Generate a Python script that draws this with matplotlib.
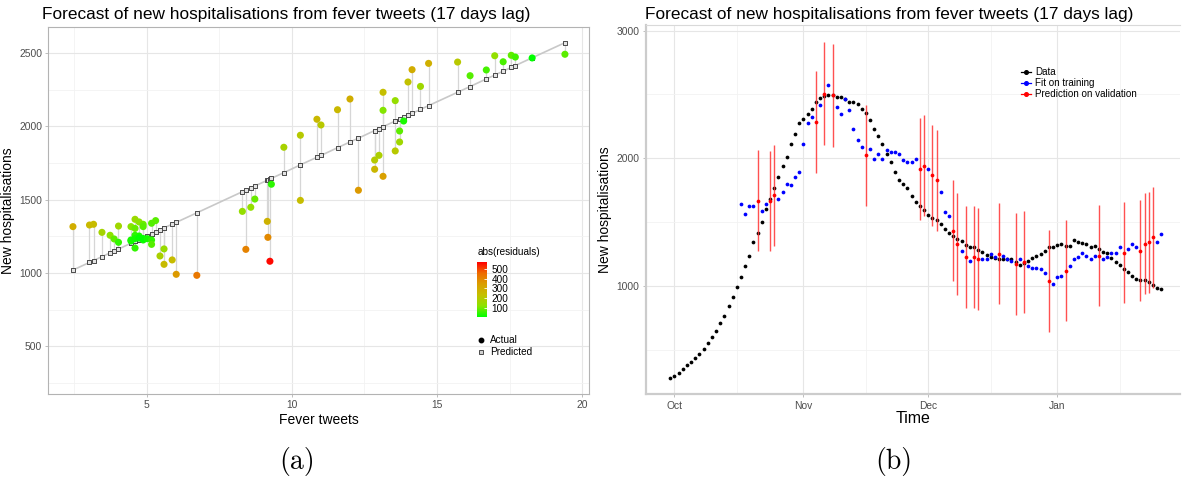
import numpy as np
import pandas as pd
import matplotlib
matplotlib.use('Agg')
import matplotlib.pyplot as plt
import matplotlib.dates as mdates
from matplotlib.colors import LinearSegmentedColormap, Normalize
from matplotlib.cm import ScalarMappable
from matplotlib.lines import Line2D

plt.rcParams['font.family'] = ['Liberation Sans', 'DejaVu Sans']

# -------------------------------
# (a) fever tweets vs new hospitalisations
# -------------------------------
fever_tweets = [2.45, 3.02, 3.16, 3.45, 3.73, 3.87, 4.02, 4.02, 4.45, 4.45, 4.45,
                4.59, 4.59, 4.59, 4.59, 4.59, 4.73, 4.73, 4.73, 4.87, 4.87, 4.87, 4.87,
                5.01, 5.16, 5.16, 5.16, 5.30, 5.45, 5.59, 5.59, 5.87, 6.01, 6.72,
                8.29, 8.41, 8.58, 8.72, 9.15, 9.17, 9.24, 9.29, 9.72, 10.29, 10.29,
                10.86, 11.00, 11.57, 12.00, 12.29, 12.85, 12.85, 13.00, 13.14, 13.14,
                13.14, 13.56, 13.56, 13.71, 13.71, 13.85, 14.00, 14.14, 14.43, 14.71,
                15.71, 16.14, 16.70, 16.99, 17.28, 17.56, 17.70, 18.28, 19.41]
actual = [1316, 1327, 1332, 1277, 1257, 1232, 1320, 1209, 1316, 1218, 1225,
          1366, 1304, 1257, 1234, 1170, 1348, 1252, 1238, 1332, 1316, 1225, 1235,
          1234, 1339, 1225, 1195, 1357, 1116, 1164, 1059, 1089, 991, 984,
          1420, 1161, 1448, 1504, 1352, 1243, 1080, 1605, 1857, 1939, 1495,
          2048, 2009, 2113, 2186, 1564, 1770, 1707, 1802, 2232, 2109,
          1659, 2175, 1832, 1968, 1893, 2036, 2302, 2386, 2272, 2429,
          2438, 2345, 2384, 2481, 2440, 2484, 2472, 2466, 2491]
predicted = [1020, 1072, 1085, 1111, 1137, 1150, 1163, 1163, 1203, 1203, 1203,
             1216, 1216, 1216, 1216, 1216, 1228, 1228, 1228, 1241, 1241, 1241, 1241,
             1254, 1268, 1268, 1268, 1280, 1294, 1307, 1307, 1333, 1345, 1410,
             1554, 1565, 1580, 1593, 1632, 1634, 1641, 1645, 1684, 1737, 1737,
             1789, 1801, 1854, 1893, 1919, 1971, 1971, 1984, 1997, 1997,
             1997, 2036, 2036, 2049, 2049, 2062, 2076, 2088, 2115, 2141,
             2232, 2271, 2323, 2349, 2376, 2401, 2414, 2467, 2570]

# -------------------------------
# (b) time series (days counted from start_date)
# -------------------------------
start_date = '2020-09-30'
data_values = [282, 297, 326, 352, 383, 412, 441, 472, 509, 555,
               603, 654, 717, 772, 850, 915, 994, 1077, 1158, 1241,
               1351, 1416, 1505, 1604, 1685, 1771, 1857, 1940, 2011, 2113,
               2188, 2274, 2310, 2345, 2387, 2439, 2476, 2486, 2494, 2494,
               2484, 2484, 2466, 2445, 2442, 2429, 2387, 2353, 2304, 2233,
               2176, 2113, 2037, 1969, 1894, 1830, 1802, 1768, 1708, 1656,
               1625, 1596, 1562, 1533, 1518, 1491, 1450, 1418, 1395, 1374,
               1353, 1322, 1312, 1312, 1285, 1270, 1246, 1233, 1225, 1218,
               1218, 1218, 1212, 1190, 1165, 1185, 1202, 1225, 1238, 1257,
               1278, 1312, 1312, 1322, 1335, 1317, 1317, 1364, 1348, 1343,
               1330, 1307, 1314, 1296, 1272, 1259, 1223, 1194, 1165, 1134,
               1113, 1085, 1061, 1048, 1048, 1033, 1009, 988, 983]

train_days = [17, 18, 19, 20, 22, 23, 26, 27, 28, 29, 30, 31, 32, 33, 34, 36, 38,
              40, 41, 42, 43, 44, 45, 46, 48, 49, 50, 51, 52, 53, 54, 55, 56, 57,
              58, 59, 62, 65, 66, 67, 70, 72, 75, 76, 77, 78, 80, 81, 82, 84, 86,
              87, 88, 89, 90, 92, 93, 94, 96, 97, 98, 99, 100, 101, 102, 104, 105,
              106, 107, 108, 110, 111, 112, 117, 118]
train_values = [1643, 1565, 1632, 1632, 1591, 1646, 1685, 1737, 1802, 1789, 1854,
                1893, 2115, 2274, 2324, 2415, 2571, 2402, 2350, 2467, 2376, 2232,
                2141, 2089, 2076, 1998, 2037, 1998, 2063, 2050, 2050, 2037, 1985,
                1972, 1972, 1998, 1919, 1737, 1581, 1554, 1278, 1200, 1215, 1215,
                1254, 1228, 1241, 1215, 1202, 1215, 1161, 1147, 1147, 1134, 1108,
                1017, 1071, 1085, 1161, 1212, 1228, 1264, 1241, 1212, 1241, 1212,
                1228, 1264, 1264, 1306, 1293, 1332, 1306, 1345, 1411]

valid_days = [21, 24, 25, 35, 37, 39, 47, 60, 61, 63, 64, 68, 69, 71, 73, 74, 79,
              83, 85, 91, 95, 103, 109, 113, 114, 115, 116]
valid_values = [1671, 1669, 1711, 2285, 2506, 2493, 2024, 1919, 1945, 1867, 1828,
                1437, 1333, 1228, 1228, 1215, 1257, 1177, 1190, 1045, 1124, 1241,
                1265, 1278, 1333, 1346, 1385]
valid_half_width = [393, 393, 394, 398, 402, 402, 396, 396, 395, 394, 394,
                    394, 397, 398, 398, 397, 396, 397, 397, 399, 398, 396,
                    396, 395, 394, 394, 395]

GRID_MAJOR = '#E6E6E6'
GRID_MINOR = '#F2F2F2'
TICK_LABEL = '#4D4D4D'


def style_axes(ax):
    ax.set_facecolor('white')
    ax.grid(True, which='major', color=GRID_MAJOR, lw=0.8)
    ax.grid(True, which='minor', color=GRID_MINOR, lw=0.6)
    ax.set_axisbelow(True)
    ax.tick_params(which='major', length=2.5, width=0.6, color='#B3B3B3',
                   labelcolor=TICK_LABEL, labelsize=7.4, pad=2)
    ax.tick_params(which='minor', length=0)


fig = plt.figure(figsize=(11.82, 4.8), dpi=100)

# -------------------------------
# Panel (a)
# -------------------------------
ax1 = fig.add_axes([48.3 / 1182, 1 - 394 / 480, (589.3 - 48.3) / 1182, (394 - 26.7) / 480])
style_axes(ax1)

x = np.array(fever_tweets)
y_act = np.array(actual)
y_pred = np.array(predicted)
resid = np.abs(y_act - y_pred)

cmap = LinearSegmentedColormap.from_list(
    'resid', ['#00FF00', '#8CE300', '#C4C000', '#DA9E00', '#EE6A00', '#FF0000'])
norm = Normalize(vmin=4, vmax=572)

ax1.vlines(x, y_act, y_pred, color='#D6D6D6', lw=0.9, zorder=1)
order = np.argsort(x)
ax1.plot(x[order], y_pred[order], color='#C8C8C8', lw=1.2, zorder=2)
ax1.scatter(x, y_pred, marker='s', s=9, facecolors='#E4E4E4', edgecolors='#4A4A4A',
            linewidths=0.7, zorder=3)
ax1.scatter(x, y_act, c=resid, cmap=cmap, norm=norm, s=26, linewidths=0, zorder=4)

ax1.set_xlim(1.6, 20.25)
ax1.set_ylim(175, 2679)
ax1.set_xticks([5, 10, 15, 20])
ax1.set_xticks([2.5, 7.5, 12.5, 17.5], minor=True)
ax1.set_yticks([500, 1000, 1500, 2000, 2500])
ax1.set_yticks([250, 750, 1250, 1750, 2250], minor=True)
for s in ax1.spines.values():
    s.set_color('#B3B3B3')
    s.set_linewidth(0.8)
ax1.set_xlabel('Fever tweets', fontsize=10, labelpad=2)
ax1.set_ylabel('New hospitalisations', fontsize=10, labelpad=3)

# colour bar legend inside the panel
cax = fig.add_axes([477.3 / 1182, 1 - 317 / 480, 10 / 1182, 55 / 480])
cb = fig.colorbar(ScalarMappable(norm=norm, cmap=cmap), cax=cax)
cb.outline.set_visible(False)
cb.set_ticks([100, 200, 300, 400, 500])
cax.tick_params(length=2, width=0.6, color='white', direction='in',
                labelsize=7.2, pad=3, labelcolor='black')
fig.text(477.3 / 1182, 1 - 252 / 480, 'abs(residuals)', fontsize=7.2, va='center')

handles_a = [Line2D([], [], marker='o', ls='none', color='black', ms=3.2),
             Line2D([], [], marker='s', ls='none', mfc='#D0D0D0', mec='#4A4A4A',
                    mew=0.7, ms=3.4)]
ax1.legend(handles_a, ['Actual', 'Predicted'], loc='upper left',
           bbox_to_anchor=(477 / 1182, 1 - 335 / 480), bbox_transform=fig.transFigure,
           frameon=False, fontsize=7.2, handlelength=0.8, handletextpad=0.5,
           labelspacing=0.2, borderpad=0, borderaxespad=0)

# -------------------------------
# Panel (b)
# -------------------------------
ax2 = fig.add_axes([645.7 / 1182, 1 - 394.3 / 480, (1180 - 645.7) / 1182, (394.3 - 25) / 480])
style_axes(ax2)

t0 = pd.Timestamp(start_date)
data_dates = t0 + pd.to_timedelta(np.arange(len(data_values)), unit='D')
train_dates = t0 + pd.to_timedelta(train_days, unit='D')
valid_dates = t0 + pd.to_timedelta(valid_days, unit='D')

ax2.plot(data_dates, data_values, 'o', color='black', ms=2.7, mew=0, zorder=3)
ax2.plot(train_dates, train_values, 'o', color='blue', ms=2.7, mew=0, zorder=3)
ax2.errorbar(valid_dates, valid_values, yerr=valid_half_width, fmt='o', color='red',
             ms=2.7, mew=0, ecolor=(1, 0.2, 0.2, 0.85), elinewidth=1.0,
             capsize=2.2, capthick=1.0, zorder=4)

ax2.set_xlim(t0 - pd.Timedelta(days=5.9), t0 + pd.Timedelta(days=122.5))
ax2.set_ylim(157, 3043)
ax2.xaxis.set_major_locator(mdates.MonthLocator())
ax2.xaxis.set_minor_locator(mdates.MonthLocator(bymonthday=16))
ax2.xaxis.set_major_formatter(mdates.DateFormatter('%b'))
ax2.set_yticks([1000, 2000, 3000])
ax2.set_yticks([500, 1500, 2500], minor=True)
ax2.spines['right'].set_visible(False)
ax2.spines['top'].set_color('#D9D9D9')
ax2.spines['top'].set_linewidth(0.8)
for side in ['left', 'bottom']:
    ax2.spines[side].set_color('#CCCCCC')
    ax2.spines[side].set_linewidth(1.6)
ax2.set_xlabel('Time', fontsize=11.5, labelpad=0)
ax2.set_ylabel('New hospitalisations', fontsize=10, labelpad=3)

handles_b = [Line2D([], [], marker='o', color='black', ms=2.6, lw=0.9),
             Line2D([], [], marker='o', color='blue', ms=2.6, lw=0.9),
             Line2D([], [], marker='o', color='red', ms=2.6, lw=0.9)]
ax2.legend(handles_b, ['Data', 'Fit on training', 'Prediction on validation'],
           loc='upper left', bbox_to_anchor=(1021 / 1182, 1 - 67 / 480),
           bbox_transform=fig.transFigure, frameon=False, fontsize=7.1,
           handlelength=1.0, handletextpad=0.45, labelspacing=0.12,
           borderpad=0, borderaxespad=0)

# -------------------------------
# Titles and sub-captions
# -------------------------------
title = 'Forecast of new hospitalisations from fever tweets (17 days lag)'
fig.text(42 / 1182, 1 - 19.5 / 480, title, fontsize=12.4, va='baseline', ha='left')
fig.text(645 / 1182, 1 - 19.5 / 480, title, fontsize=12.4, va='baseline', ha='left')

fig.text(297 / 1182, 1 - 461 / 480, '(a)', family='cmr10', fontsize=20,
         ha='center', va='center')
fig.text(894 / 1182, 1 - 461 / 480, '(b)', family='cmr10', fontsize=20,
         ha='center', va='center')

fig.savefig('out.png', dpi=100, facecolor='white')
